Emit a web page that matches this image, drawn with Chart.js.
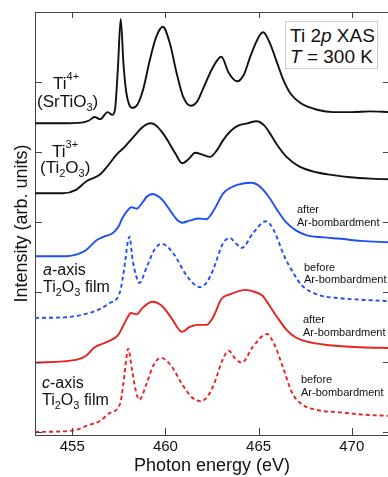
<!DOCTYPE html>
<html>
<head>
<meta charset="utf-8">
<script src="https://cdn.jsdelivr.net/npm/chart.js@4.4.1/dist/chart.umd.min.js"></script>
<style>
  html, body { margin: 0; padding: 0; background: #fff; overflow: hidden; }
  #wrap { position: relative; width: 390px; height: 477px; }
  canvas { position: absolute; left: 0; top: 0; }
  .lbl { position: absolute; white-space: nowrap; line-height: 1; color: #111;
         font-family: "Liberation Sans", Arial, Helvetica, sans-serif; }
  .sup, .sub { position: relative; }
  #box { position: absolute; left: 285px; top: 21px; width: 91px; height: 46px;
         border: 1px solid #cfcfcf; background: #fff; }
</style>
</head>
<body>
<div id="wrap">
  <canvas id="c" width="390" height="477"></canvas>
  <div id="box"></div>
</div>
<script>
// ---- data ----
const xTicks = [455, 460, 465, 470];
const yTicks = [0, 1, 2, 3, 4, 5, 6];

// Ti4+ (SrTiO3)
const srE = [453.0, 454.5, 455.5, 455.9, 456.2, 456.5, 456.9, 457.15, 457.3, 457.45, 457.6, 457.75, 457.9, 458.05, 458.2, 458.5, 458.8, 459.16, 459.5, 459.86, 460.23, 460.6, 460.95, 461.35, 461.7, 462.0, 462.55, 463.0, 463.4, 463.85, 464.2, 464.55, 465.0, 465.25, 465.6, 466.0, 466.33, 466.7, 467.25, 468.2, 469.0, 470.0, 471.0, 472.0];
const srI = [4.41, 4.41, 4.42, 4.45, 4.50, 4.47, 4.57, 4.53, 4.62, 5.20, 5.90, 5.25, 4.85, 4.68, 4.63, 4.68, 4.89, 5.31, 5.64, 5.79, 5.56, 5.13, 4.79, 4.66, 4.72, 4.89, 5.21, 5.36, 5.13, 5.01, 5.10, 5.36, 5.64, 5.71, 5.56, 5.27, 5.03, 4.84, 4.70, 4.60, 4.57, 4.57, 4.58, 4.57];

// Ti3+ (Ti2O3)
const toE = [453.0, 454.5, 455.2, 455.8, 456.45, 456.9, 457.4, 457.8, 458.3, 458.8, 459.2, 459.5, 459.86, 460.2, 460.55, 460.9, 461.25, 461.6, 462.0, 462.4, 462.75, 463.1, 463.5, 463.85, 464.4, 464.9, 465.3, 465.6, 466.0, 466.5, 467.2, 468.1, 469.0, 469.9, 471.0, 472.0];
const toI = [3.41, 3.41, 3.46, 3.59, 3.67, 3.80, 3.97, 4.07, 4.22, 4.36, 4.41, 4.38, 4.27, 4.13, 3.97, 3.84, 3.90, 3.99, 3.96, 3.93, 4.02, 4.17, 4.30, 4.37, 4.41, 4.44, 4.38, 4.27, 4.10, 3.93, 3.79, 3.71, 3.67, 3.64, 3.62, 3.61];

// a-axis film, after Ar-bombardment
const aAftE = [453.0, 454.7, 455.3, 455.75, 456.3, 456.7, 457.16, 457.45, 457.7, 457.95, 458.18, 458.45, 458.8, 459.0, 459.3, 459.6, 459.86, 460.34, 460.6, 460.9, 461.3, 461.8, 462.2, 462.6, 463.1, 463.5, 463.85, 464.6, 465.1, 465.6, 466.0, 466.5, 467.0, 467.6, 468.5, 469.4, 470.5, 472.0];
const aAftI = [2.51, 2.51, 2.54, 2.60, 2.74, 2.79, 2.84, 2.92, 3.06, 3.16, 3.21, 3.19, 3.29, 3.36, 3.40, 3.37, 3.31, 3.13, 3.04, 2.99, 3.02, 3.05, 3.04, 3.17, 3.41, 3.49, 3.53, 3.56, 3.50, 3.34, 3.17, 2.99, 2.88, 2.81, 2.78, 2.76, 2.73, 2.71];

// a-axis film, before Ar-bombardment
const aBefE = [453.0, 454.7, 455.9, 456.5, 457.0, 457.55, 457.8, 457.97, 458.07, 458.24, 458.45, 458.6, 459.0, 459.4, 459.8, 460.4, 461.05, 461.5, 461.85, 462.2, 462.55, 463.1, 463.47, 463.8, 464.1, 464.7, 465.4, 465.8, 466.4, 466.85, 467.3, 468.2, 469.4, 470.5, 472.0];
const aBefI = [1.63, 1.64, 1.70, 1.76, 1.84, 1.99, 2.36, 2.70, 2.79, 2.46, 2.21, 2.13, 2.36, 2.60, 2.69, 2.56, 2.27, 2.12, 2.07, 2.13, 2.31, 2.70, 2.77, 2.69, 2.63, 2.84, 3.01, 2.89, 2.50, 2.28, 2.10, 1.96, 1.91, 1.89, 1.87];

// c-axis film, after Ar-bombardment
const cAftE = [453.0, 455.2, 455.75, 456.2, 456.9, 457.45, 457.7, 457.95, 458.15, 458.45, 458.8, 459.3, 459.86, 460.34, 460.9, 461.3, 461.8, 462.2, 462.6, 463.0, 463.5, 464.3, 464.8, 465.2, 465.6, 466.0, 466.5, 467.0, 467.6, 468.8, 470.5, 472.0];
const cAftI = [0.99, 1.03, 1.09, 1.21, 1.29, 1.38, 1.50, 1.63, 1.70, 1.68, 1.78, 1.86, 1.79, 1.62, 1.43, 1.50, 1.53, 1.53, 1.66, 1.90, 1.97, 2.03, 2.00, 1.95, 1.80, 1.64, 1.46, 1.35, 1.29, 1.24, 1.21, 1.20];

// c-axis film, before Ar-bombardment
const cBefE = [453.0, 455.0, 455.9, 456.5, 457.0, 457.55, 457.75, 457.9, 458.0, 458.2, 458.4, 458.6, 459.0, 459.35, 459.75, 460.3, 460.9, 461.4, 461.9, 462.3, 462.6, 463.1, 463.4, 463.75, 464.1, 464.7, 465.45, 465.85, 466.3, 466.8, 467.3, 468.2, 469.4, 470.5, 472.0];
const cBefI = [0.00, 0.02, 0.10, 0.16, 0.27, 0.39, 0.70, 1.05, 1.19, 0.90, 0.60, 0.46, 0.70, 0.95, 1.06, 0.95, 0.68, 0.50, 0.44, 0.52, 0.68, 1.05, 1.16, 1.05, 0.99, 1.22, 1.40, 1.25, 0.93, 0.56, 0.40, 0.31, 0.28, 0.25, 0.23];

// ---- styling ----
const FONT = '"Liberation Sans", Arial, Helvetica, sans-serif';
const BLACK = '#111111', BLUE = '#1f4ef2', RED = '#e8231f', AXIS = '#444444';

function pts(E, I) { return E.map((e, i) => ({ x: e, y: I[i] })); }
function ds(E, I, color, dashed) {
  return {
    data: pts(E, I), borderColor: color, borderWidth: 1.9,
    borderDash: dashed ? [4, 3] : [], pointRadius: 0,
    cubicInterpolationMode: 'monotone', fill: false
  };
}

const innerTicks = {
  id: 'innerTicks',
  afterDraw(chart) {
    const { ctx, chartArea: a, scales: { x, y } } = chart;
    ctx.save();
    ctx.strokeStyle = AXIS; ctx.lineWidth = 1;
    ctx.beginPath();
    ctx.moveTo(a.left, a.top + 0.5); ctx.lineTo(a.right, a.top + 0.5);
    x.ticks.forEach(t => {
      const px = Math.round(x.getPixelForValue(t.value)) + 0.5;
      ctx.moveTo(px, a.bottom); ctx.lineTo(px, a.bottom - 7);
      ctx.moveTo(px, a.top); ctx.lineTo(px, a.top + 6);
    });
    y.ticks.forEach(t => {
      const py = Math.round(y.getPixelForValue(t.value)) + 0.5;
      ctx.moveTo(a.left, py); ctx.lineTo(a.left + 7, py);
      ctx.moveTo(a.right, py); ctx.lineTo(a.right - 6, py);
    });
    ctx.stroke();
    ctx.restore();
  }
};

new Chart(document.getElementById('c'), {
  type: 'line',
  data: {
    datasets: [
      ds(srE, srI, BLACK, false),
      ds(toE, toI, BLACK, false),
      ds(aAftE, aAftI, BLUE, false),
      ds(aBefE, aBefI, BLUE, true),
      ds(cAftE, cAftI, RED, false),
      ds(cBefE, cBefI, RED, true)
    ]
  },
  options: {
    responsive: false, animation: false, devicePixelRatio: 1,
    layout: { padding: { top: 12, right: 1, left: 0, bottom: 0 } },
    plugins: { legend: { display: false }, tooltip: { enabled: false } },
    scales: {
      x: {
        type: 'linear', min: 453, max: 472,
        afterBuildTicks: s => { s.ticks = xTicks.map(v => ({ value: v })); },
        afterFit: s => { s.height = 42; },
        grid: { display: false, drawTicks: false },
        border: { display: true, color: AXIS, width: 1 },
        ticks: { font: { size: 15, family: FONT }, color: '#111', padding: 3 },
        title: { display: true, text: 'Photon energy (eV)', color: '#111',
                 font: { size: 18, family: FONT }, padding: { top: 0, bottom: 0 } }
      },
      y: {
        type: 'linear', min: -0.043, max: 6,
        afterBuildTicks: s => { s.ticks = yTicks.map(v => ({ value: v })); },
        afterFit: s => { s.width = 35; },
        grid: { display: false, drawTicks: false },
        border: { display: true, color: AXIS, width: 1 },
        ticks: { display: false },
        title: { display: true, text: 'Intensity (arb. units)', color: '#111',
                 font: { size: 18, family: FONT }, padding: { top: 11, bottom: 0 } }
      }
    }
  },
  plugins: [innerTicks]
});

// ---- annotations (real text) ----
const wrap = document.getElementById('wrap');
function label(html, x, baseline, size, parent) {
  const d = document.createElement('div');
  d.className = 'lbl';
  d.style.fontSize = size + 'px';
  d.style.left = x + 'px';
  d.style.top = (baseline - 0.847 * size) + 'px';
  d.innerHTML = html;
  (parent || wrap).appendChild(d);
}
const sup = (t, s, up) => `<span class="sup" style="font-size:${s}px;top:-${up}px">${t}</span>`;
const sub = (t, s, dn) => `<span class="sub" style="font-size:${s}px;top:${dn}px">${t}</span>`;

label('Ti' + sup('4+', 11, 9), 53, 89, 17);
label('(SrTiO' + sub('3', 11, 4) + ')', 37, 107, 17);
label('Ti' + sup('3+', 11, 9), 52, 157, 17);
label('(Ti' + sub('2', 11, 4) + 'O' + sub('3', 11, 4) + ')', 40, 173, 17);

label('<i>a</i>-axis', 43, 276, 16);
label('Ti' + sub('2', 11, 4) + 'O' + sub('3', 11, 4) + ' film', 43, 293, 16);
label('<i>c</i>-axis', 42, 389, 16);
label('Ti' + sub('2', 11, 4) + 'O' + sub('3', 11, 4) + ' film', 42, 406, 16);

label('after', 297, 213, 11);
label('Ar-bombardment', 297, 226, 11);
label('before', 304, 271, 11);
label('Ar-bombardment', 304, 283, 11);
label('after', 303, 323, 11);
label('Ar-bombardment', 303, 336, 11);
label('before', 301, 383, 11);
label('Ar-bombardment', 301, 396, 11);

label('Ti 2<i>p</i> XAS', 290, 42, 19);
label('<i>T</i> = 300 K', 290, 63, 19);
</script>
</body>
</html>
